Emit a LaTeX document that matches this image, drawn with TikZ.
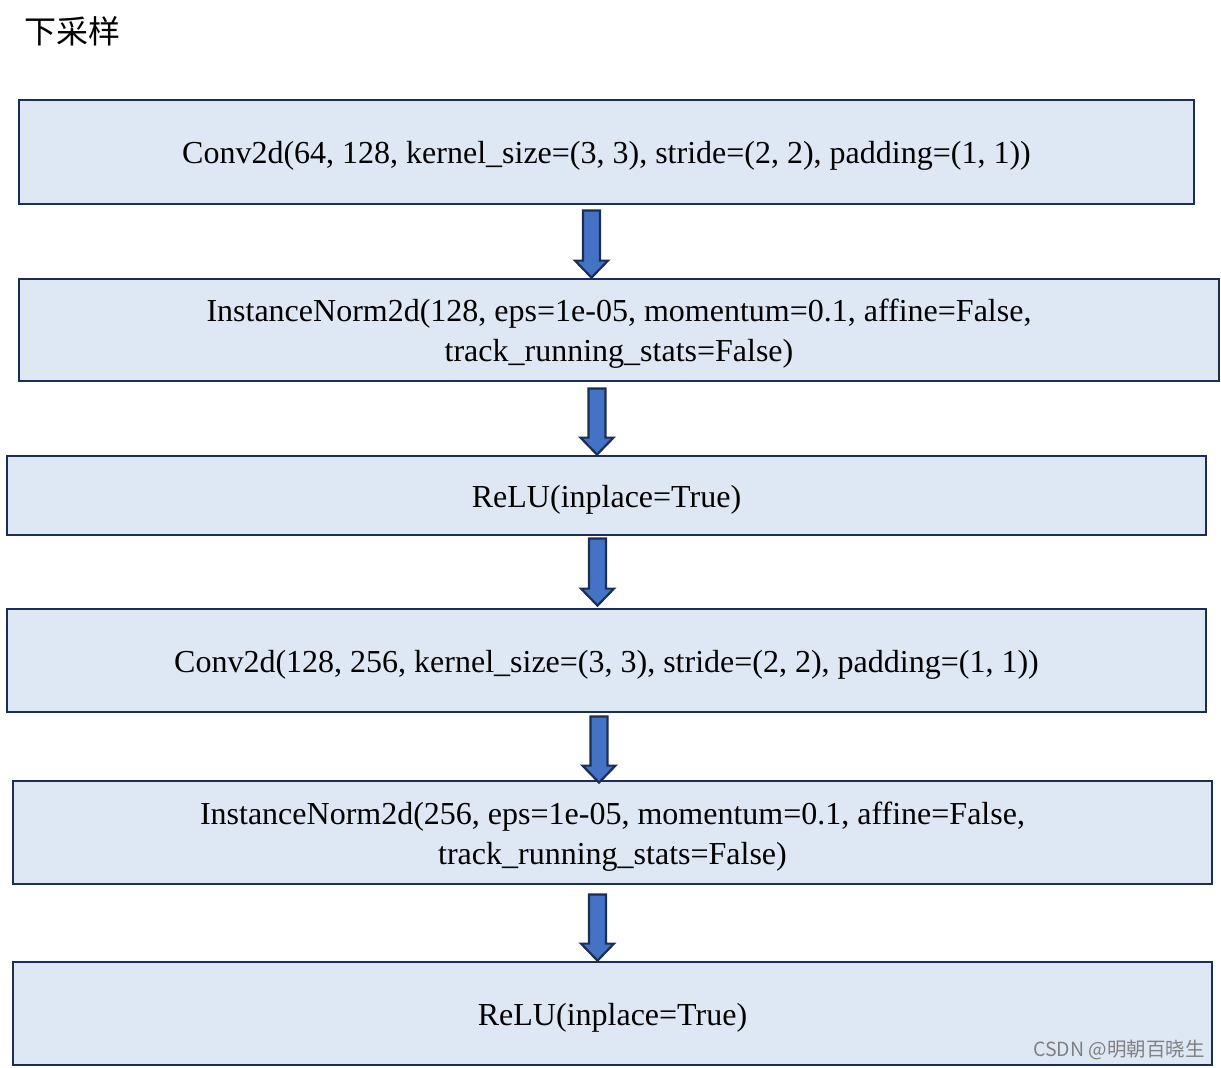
\documentclass[tikz,border=0pt]{standalone}
\usepackage{fontspec}
\setmainfont{Liberation Serif}
\newfontfamily\cjk{Noto Sans CJK SC}
\usetikzlibrary{calc}
\definecolor{boxfill}{HTML}{DEE8F5}
\definecolor{boxline}{HTML}{1C2E52}
\definecolor{arrfill}{HTML}{4472C4}
\tikzset{
  layer/.style={draw=boxline, fill=boxfill, line width=2.8pt, inner sep=0pt},
  layertext/.style={inner sep=0pt, align=center, font=\fontsize{32}{40}\selectfont, text=black, yshift=-4pt},
  blkarrow/.style={draw=boxline, fill=arrfill, line width=2.2pt, line join=miter},
}
\begin{document}
\begin{tikzpicture}[x=1pt,y=-1pt]
\useasboundingbox (0,0) rectangle (1221,1068);
\node[font=\cjk\fontsize{32}{36}\selectfont, anchor=west, inner sep=0pt] (title) at (24,31) {下采样};

\node[layer, minimum width=1175, minimum height=104] (b1) at (606.5,152) {};
\node[layer, minimum width=1200, minimum height=102] (b2) at (619,330) {};
\node[layer, minimum width=1199, minimum height=79] (b3) at (606.5,495.5) {};
\node[layer, minimum width=1199, minimum height=103] (b4) at (606.5,660.5) {};
\node[layer, minimum width=1199, minimum height=103] (b5) at (612.5,832.5) {};
\node[layer, minimum width=1199, minimum height=103] (b6) at (612.5,1013.5) {};

\node[layertext] (t1) at (b1.center) {Conv2d(64, 128, kernel\_size=(3, 3), stride=(2, 2), padding=(1, 1))};
\node[layertext] (t2) at (b2.center) {InstanceNorm2d(128, eps=1e-05, momentum=0.1, affine=False,\\ track\_running\_stats=False)};
\node[layertext] (t3) at (b3.center) {ReLU(inplace=True)};
\node[layertext] (t4) at (b4.center) {Conv2d(128, 256, kernel\_size=(3, 3), stride=(2, 2), padding=(1, 1))};
\node[layertext] (t5) at (b5.center) {InstanceNorm2d(256, eps=1e-05, momentum=0.1, affine=False,\\ track\_running\_stats=False)};
\node[layertext] (t6) at (b6.center) {ReLU(inplace=True)};

\newcommand\blockarrow[5]{% cx, from, to, gap top, tip offset
  \draw[blkarrow] let \p1=(#2.south), \p2=(#3.north) in
    (#1pt-8.5pt,\y1-#4pt) -- (#1pt-8.5pt,\y2+#5pt+17pt) -- (#1pt-16.5pt,\y2+#5pt+17pt)
    -- (#1pt,\y2+#5pt) -- (#1pt+16.5pt,\y2+#5pt+17pt) -- (#1pt+8.5pt,\y2+#5pt+17pt)
    -- (#1pt+8.5pt,\y1-#4pt) -- cycle;}
\blockarrow{591.5}{b1}{b2}{5}{0}
\blockarrow{597}{b2}{b3}{6}{0}
\blockarrow{597.5}{b3}{b4}{2}{2}
\blockarrow{599}{b4}{b5}{3}{-3}
\blockarrow{597.5}{b5}{b6}{9}{0}

\node[font=\cjk\fontsize{19.5}{22}\selectfont, text=black!50, anchor=base east, inner sep=0pt] (wm) at (1205,1056) {CSDN @明朝百晓生};
\end{tikzpicture}
\end{document}
